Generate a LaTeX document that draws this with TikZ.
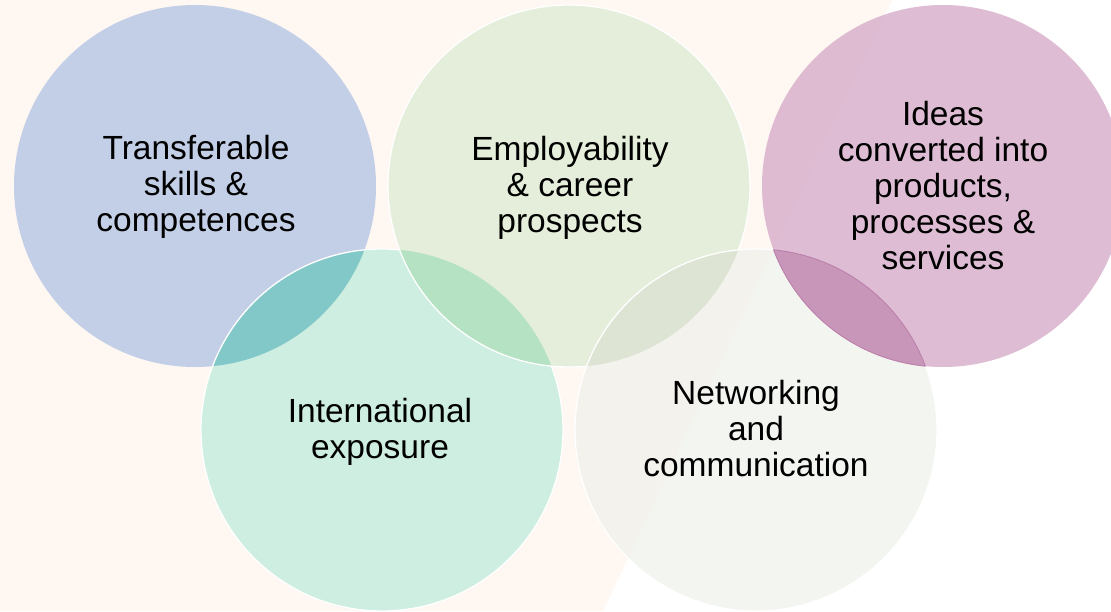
\documentclass[tikz,border=0pt]{standalone}
\usepackage{fontspec}
\setmainfont{Liberation Sans}
\definecolor{bgpeach}{RGB}{254,247,242}
\definecolor{cblue}{RGB}{195,207,231}
\definecolor{cteal}{RGB}{205,238,225}
\definecolor{cgreen}{RGB}{228,238,218}
\definecolor{cnet}{RGB}{239,241,234}
\definecolor{cpink}{RGB}{209,162,195}
\definecolor{lbt}{RGB}{130,200,200}
\definecolor{ltg}{RGB}{180,226,194}
\definecolor{lgn}{RGB}{222,228,212}
\definecolor{lnp}{RGB}{200,150,185}
\definecolor{pinkedge}{RGB}{188,128,172}
\begin{document}
\begin{tikzpicture}[x=1pt,y=-1pt,
  lbl/.style={align=center,font=\fontsize{33.5}{36}\selectfont,text=black,inner sep=0pt},
  ring/.style={draw=white,line width=1.3pt},
  pedge/.style={draw=pinkedge,line width=0.9pt}]
\useasboundingbox (0,0) rectangle (1111,611);
\fill[bgpeach] (0,0) rectangle (1111,611);
\coordinate (d1) at (892,0);
\coordinate (d2) at (603,611);
\fill[white] (d1) -- (1111,0) -- (1111,611) -- (d2) -- cycle;
\coordinate (cb) at (195,186);
\coordinate (cg) at (569,186);
\coordinate (cp) at (943,186);
\coordinate (ct) at (382,430);
\coordinate (cn) at (756,430);
\def\R{181}
% blue
\fill[cblue] (cb) circle (\R);
% teal
\fill[cteal] (ct) circle (\R);
\begin{scope}\clip (cb) circle (\R); \fill[lbt] (ct) circle (\R);\end{scope}
\draw[ring] (ct) circle (\R);
% green
\fill[cgreen] (cg) circle (\R);
\begin{scope}\clip (ct) circle (\R); \fill[ltg] (cg) circle (\R);\end{scope}
\draw[ring] (cg) circle (\R);
% networking
\fill[cnet,fill opacity=0.7] (cn) circle (\R);
\begin{scope}\clip (cg) circle (\R); \fill[lgn] (cn) circle (\R);\end{scope}
\draw[ring] (cn) circle (\R);
% pink
\fill[cpink,fill opacity=0.7] (cp) circle (\R);
\begin{scope}\clip (cn) circle (\R); \fill[lnp] (cp) circle (\R); \draw[pedge] (cp) circle (\R);\end{scope}
\begin{scope}\clip (cp) circle (\R); \draw[pedge] (cn) circle (\R);\end{scope}
% labels
\node[lbl] (tb) at (196,187) {Transferable\\skills \&\\competences};
\node[lbl] (tg) at (570,188) {Employability\\\& career\\prospects};
\node[lbl] (tp) at (943,186) {Ideas\\converted into\\products,\\processes \&\\services};
\node[lbl] (tt) at (380,432) {International\\exposure};
\node[lbl] (tn) at (756,429) {Networking\\and\\communication};
\end{tikzpicture}
\end{document}
